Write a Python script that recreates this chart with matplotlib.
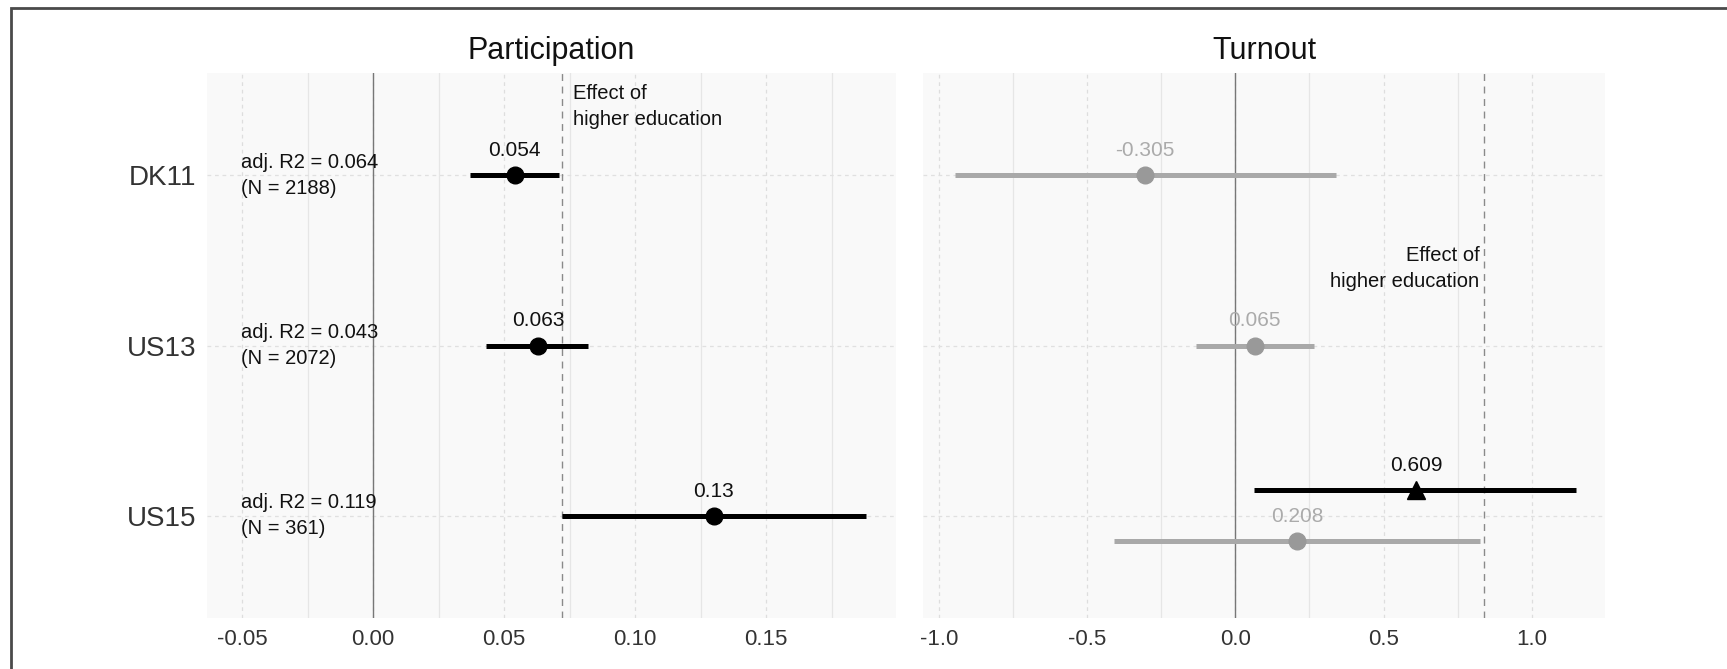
import matplotlib
matplotlib.use("Agg")
import matplotlib.pyplot as plt
from matplotlib.patches import Rectangle
from matplotlib.ticker import MultipleLocator

plt.rcParams["font.family"] = ["Liberation Sans", "DejaVu Sans"]
plt.rcParams["axes.unicode_minus"] = False

# Cases (rows) and model summaries
cases = ["DK11", "US13", "US15"]
adj_r2 = ["0.064", "0.043", "0.119"]
n_obs = [2188, 2072, 361]

# Participation: effect estimates with confidence intervals
part_est = [0.054, 0.063, 0.130]
part_lo = [0.037, 0.043, 0.072]
part_hi = [0.071, 0.082, 0.188]
part_ref = 0.072

# Turnout: estimates (grey, not significant)
turn_est = [-0.305, 0.065, 0.208]
turn_lo = [-0.946, -0.133, -0.408]
turn_hi = [0.340, 0.264, 0.826]
# Turnout: additional significant estimate for US15
turn_extra_case = "US15"
turn_extra_est = 0.609
turn_extra_lo = 0.063
turn_extra_hi = 1.149
turn_ref = 0.838

BLACK = "#000000"
GREY = "#a9a9a9"
GREY_TXT = "#ababab"
PANEL_BG = "#f9f9f9"
TXT = "#111111"

W, H = 1727, 669
fig = plt.figure(figsize=(W / 100, H / 100), dpi=100)

top_px, bot_px = 73, 618
ax1 = fig.add_axes([207 / W, 1 - bot_px / H, (896 - 207) / W, (bot_px - top_px) / H])
ax2 = fig.add_axes([923 / W, 1 - bot_px / H, (1605 - 923) / W, (bot_px - top_px) / H])

ypos = {c: i + 1 for i, c in enumerate(cases)}


def style_axis(ax, xlim, major, minor):
    ax.set_facecolor(PANEL_BG)
    ax.set_xlim(*xlim)
    ax.set_ylim(3.6, 0.4)
    for s in ax.spines.values():
        s.set_visible(False)
    ax.xaxis.set_major_locator(MultipleLocator(major))
    ax.xaxis.set_minor_locator(MultipleLocator(minor))
    ax.grid(which="major", axis="x", color="#dedede", lw=0.9, ls=(0, (3, 3)))
    ax.grid(which="minor", axis="x", color="#e6e6e6", lw=0.9, ls="-")
    ax.set_yticks([1, 2, 3])
    ax.grid(which="major", axis="y", color="#e0e0e0", lw=0.9, ls=(0, (3, 3)))
    ax.tick_params(axis="both", which="both", length=0)
    ax.tick_params(axis="x", labelsize=16, labelcolor="#333333", pad=8)
    ax.set_axisbelow(True)
    ax.axvline(0, color="#777777", lw=1.0, zorder=1)


# ---- Participation panel ----
style_axis(ax1, (-0.0634, 0.1996), 0.05, 0.025)
ax1.xaxis.set_major_formatter(plt.FuncFormatter(lambda v, p: f"{v:.2f}"))
ax1.set_yticklabels(cases, fontsize=20, color="#333333")
ax1.tick_params(axis="y", pad=8)
ax1.axvline(part_ref, color="#8a8a8a", lw=1.0, ls=(0, (5, 4)), zorder=1)
for c, e, lo, hi in zip(cases, part_est, part_lo, part_hi):
    y = ypos[c]
    ax1.plot([lo, hi], [y, y], color=BLACK, lw=3.6, solid_capstyle="butt", zorder=3)
    ax1.plot(e, y, "o", color=BLACK, ms=12, zorder=4)
    ax1.annotate(f"{e:g}", (e, y), xytext=(0, 11), textcoords="offset points",
                 ha="center", va="bottom", fontsize=15, color=TXT)
for c, r, n in zip(cases, adj_r2, n_obs):
    ax1.text(-0.0505, ypos[c], f"adj. R2 = {r}\n(N = {n})", ha="left", va="center",
             fontsize=14.5, color=TXT, linespacing=1.45)
ax1.annotate("Effect of\nhigher education", (part_ref, 0.4), xytext=(8, -8),
             textcoords="offset points", ha="left", va="top", fontsize=14.5,
             color=TXT, linespacing=1.45)
ax1.set_title("Participation", fontsize=22, color=TXT, pad=10)

# ---- Turnout panel ----
style_axis(ax2, (-1.054, 1.247), 0.5, 0.25)
ax2.xaxis.set_major_formatter(plt.FuncFormatter(lambda v, p: f"{v:.1f}"))
ax2.set_yticklabels([])
ax2.axvline(turn_ref, color="#8a8a8a", lw=1.0, ls=(0, (5, 4)), zorder=1)
dodge = 0.15
for c, e, lo, hi in zip(cases, turn_est, turn_lo, turn_hi):
    y = ypos[c] + (dodge if c == turn_extra_case else 0)
    ax2.plot([lo, hi], [y, y], color=GREY, lw=3.6, solid_capstyle="butt", zorder=3)
    ax2.plot(e, y, "o", color="#999999", ms=12, zorder=4)
    ax2.annotate(f"{e:g}", (e, y), xytext=(0, 11), textcoords="offset points",
                 ha="center", va="bottom", fontsize=15, color=GREY_TXT)
y = ypos[turn_extra_case] - dodge
ax2.plot([turn_extra_lo, turn_extra_hi], [y, y], color=BLACK, lw=3.6,
         solid_capstyle="butt", zorder=3)
ax2.plot(turn_extra_est, y, "^", color=BLACK, ms=13, zorder=4)
ax2.annotate(f"{turn_extra_est:g}", (turn_extra_est, y), xytext=(0, 11),
             textcoords="offset points", ha="center", va="bottom", fontsize=15,
             color=TXT)
ax2.annotate("Effect of\nhigher education", (turn_ref, 1.547), xytext=(-3, 0),
             textcoords="offset points", ha="right", va="center", fontsize=14.5,
             color=TXT, linespacing=1.45)
ax2.set_title("Turnout", fontsize=22, color=TXT, pad=10)

# Outer frame
fig.patches.append(Rectangle((11 / W, -0.05), 1.1, 1 - 8 / H + 0.05,
                             transform=fig.transFigure, fill=False,
                             ec="#4a4a4a", lw=2.0, zorder=10))

fig.savefig("out.png", dpi=100)
